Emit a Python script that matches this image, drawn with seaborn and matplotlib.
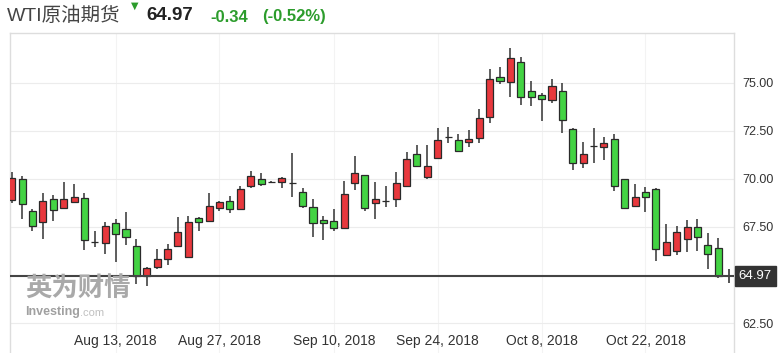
import numpy as np
import pandas as pd
import matplotlib
matplotlib.use("Agg")
import matplotlib.pyplot as plt
import matplotlib.transforms as mtransforms
import seaborn as sns

# ---------------- data ----------------
title = "WTI原油期货"
last_price = 64.97
change_text = "-0.34"
pct_text = "(-0.52%)"

opens = [68.91, 69.98, 68.35, 67.74, 68.94, 68.50, 68.79, 69.00, 66.73, 66.65,
         67.69, 67.38, 66.53, 64.95, 65.40, 65.82, 66.51, 65.95, 67.97, 67.81,
         68.47, 68.87, 68.42, 69.65, 69.98, 69.86, 69.83, 69.81, 69.34, 68.56,
         67.86, 67.80, 67.43, 69.78, 70.21, 68.73, 68.84, 68.94, 69.64, 71.29,
         70.09, 71.08, 72.20, 72.03, 71.91, 72.12, 73.21, 75.33, 75.04, 76.11,
         74.60, 74.38, 74.11, 74.60, 72.59, 70.85, 71.72, 71.65, 72.07, 69.98,
         68.59, 69.34, 69.46, 66.04, 66.25, 66.86, 67.48, 66.56, 66.39]
highs = [70.38, 70.16, 68.42, 69.29, 69.17, 69.86, 69.74, 69.29, 67.31, 67.78,
         67.90, 68.30, 66.88, 65.43, 66.35, 66.60, 68.04, 68.09, 68.04, 69.29,
         68.87, 69.13, 69.65, 70.43, 70.30, 69.90, 70.12, 71.34, 69.52, 68.94,
         68.07, 68.42, 69.91, 71.20, 70.21, 69.86, 69.65, 70.38, 71.42, 71.77,
         71.77, 72.64, 72.72, 72.33, 72.55, 73.63, 75.71, 75.85, 76.81, 76.34,
         75.12, 74.46, 75.19, 74.98, 72.64, 71.94, 72.64, 72.20, 72.34, 69.98,
         69.74, 69.60, 69.55, 67.64, 67.55, 67.86, 67.90, 67.17, 66.91]
lows = [68.77, 67.92, 67.29, 66.88, 67.80, 68.44, 68.79, 66.30, 66.44, 66.09,
        65.66, 66.56, 64.53, 64.44, 65.31, 65.52, 66.47, 65.90, 67.29, 67.74,
        68.33, 68.21, 68.39, 69.52, 69.65, 69.83, 69.52, 69.05, 68.51, 66.96,
        66.82, 67.31, 67.43, 69.43, 68.33, 67.90, 68.56, 68.56, 69.64, 70.68,
        69.98, 71.08, 71.86, 71.42, 71.65, 71.86, 72.90, 74.93, 74.26, 73.85,
        73.80, 73.02, 73.94, 72.38, 70.47, 70.59, 70.82, 70.99, 69.38, 68.47,
        68.53, 68.27, 65.73, 66.00, 66.04, 66.21, 66.27, 65.30, 64.83]
closes = [70.04, 68.68, 67.57, 68.87, 68.39, 68.94, 69.08, 66.82, 66.73, 67.57,
          67.14, 66.99, 64.95, 65.38, 65.82, 66.34, 67.22, 67.78, 67.74, 68.61,
          68.82, 68.45, 69.46, 70.17, 69.72, 69.86, 70.04, 69.81, 68.59, 67.69,
          67.69, 67.43, 69.22, 70.33, 68.47, 68.94, 68.84, 69.78, 71.03, 70.68,
          70.69, 72.03, 72.20, 71.46, 72.08, 73.16, 75.19, 75.12, 76.29, 74.26,
          74.26, 74.18, 74.86, 73.07, 70.85, 71.29, 71.72, 71.86, 69.64, 68.50,
          69.08, 69.05, 66.34, 66.70, 67.22, 67.48, 66.99, 66.08, 64.97]

dates = list(pd.bdate_range("2018-07-30", "2018-10-31"))
dates.insert(dates.index(pd.Timestamp("2018-09-03")), pd.Timestamp("2018-09-02"))
tick_dates = ["2018-08-13", "2018-08-27", "2018-09-10", "2018-09-24", "2018-10-08", "2018-10-22"]
tick_labels = ["Aug 13, 2018", "Aug 27, 2018", "Sep 10, 2018", "Sep 24, 2018", "Oct 8, 2018", "Oct 22, 2018"]
y_ticks = [62.5, 67.5, 70.0, 72.5, 75.0]

# ---------------- style ----------------
sns.set_theme(style="white")
plt.rcParams['font.family'] = ['Liberation Sans', 'Noto Sans CJK SC', 'DejaVu Sans']

UP = "#e8383d"
DOWN = "#43d343"
FLAT = "#333333"
GREEN_TXT = "#2c9c2c"

df = pd.DataFrame({"date": dates, "open": opens, "high": highs, "low": lows, "close": closes})
df["x"] = np.arange(len(df))
df["bottom"] = df[["open", "close"]].min(axis=1)
df["height"] = (df["close"] - df["open"]).abs()
df["color"] = np.where(df["close"] > df["open"], UP, np.where(df["close"] < df["open"], DOWN, FLAT))

W, H = 783, 353
fig = plt.figure(figsize=(W / 100, H / 100), dpi=100)
ax = fig.add_axes([10 / W, 0, 724 / W, 320 / H])

# wicks & bodies
ax.vlines(df["x"], df["low"], df["high"], color="#333333", lw=1.1, zorder=3)
ax.bar(df["x"], df["height"], bottom=df["bottom"], width=0.68, color=df["color"],
       edgecolor="#2a2a2a", linewidth=0.9, zorder=4)

# last price line and cross
ax.axhline(last_price, color="#444444", lw=1.5, zorder=5)
ax.plot([len(df)], [last_price], marker="|", ms=10, mew=1.3, color="#444444", zorder=6, clip_on=False)

ax.set_xlim(-0.164, 69.52)
ax.set_ylim(60.94, 77.60)

# ticks
tick_idx = [dates.index(pd.Timestamp(d)) for d in tick_dates]
ax.set_xticks(tick_idx)
ax.set_xticklabels(tick_labels)
ax.set_yticks(y_ticks)
ax.set_yticklabels([f"{v:.2f}" for v in y_ticks])
ax.yaxis.tick_right()
ax.tick_params(axis="y", length=0, pad=6, labelsize=9, labelcolor="#333333")
ax.tick_params(axis="x", length=0, pad=-14, labelsize=10, labelcolor="#333333")
ax.grid(axis="y", color="#ececec", lw=0.8, zorder=0)
ax.grid(axis="x", color="#f3f3f3", lw=0.8, zorder=0)
for s in ["left", "top", "right"]:
    ax.spines[s].set_color("#dddddd")
    ax.spines[s].set_linewidth(1.0)
ax.spines["bottom"].set_visible(False)

# price label box
trans = mtransforms.blended_transform_factory(ax.transAxes, ax.transData)
ax.annotate(f"{last_price:.2f}", xy=(1.0, last_price), xycoords=trans,
            xytext=(3.5, 0), textcoords="offset points", ha="left", va="center",
            fontsize=9.5, color="white", annotation_clip=False,
            bbox=dict(boxstyle="square,pad=0.3", fc="#333333", ec="#333333"), zorder=7)

# watermark
fig.text(25 / W, 1 - 289 / H, "英为财情", fontsize=19, fontweight="heavy", color="#a9a9a9",
         va="center", ha="left", family=["Noto Sans CJK SC", "DejaVu Sans"])
fig.text(25 / W, 1 - 312 / H, "Investing", fontsize=9, fontweight="bold", color="#a0a0a0",
         va="center", ha="left")
fig.text(80 / W, 1 - 313 / H, ".com", fontsize=8, color="#c0c0c0", va="center", ha="left")

# header
fig.text(7 / W, 1 - 16 / H, title, fontsize=14, color="#444444", va="center", ha="left")
fig.text(135 / W, 1 - 6 / H, "▼", fontsize=7, color=GREEN_TXT, va="center", ha="center",
         family=["DejaVu Sans"])
fig.text(146 / W, 1 - 16 / H, f"{last_price:.2f}", fontsize=13.5, fontweight="bold",
         color="#222222", va="center", ha="left")
fig.text(210 / W, 1 - 17 / H, change_text, fontsize=12, fontweight="bold", color=GREEN_TXT,
         va="center", ha="left")
fig.text(262 / W, 1 - 17 / H, pct_text, fontsize=12, fontweight="bold", color=GREEN_TXT,
         va="center", ha="left")

fig.savefig("out.png", dpi=100, facecolor="white")
